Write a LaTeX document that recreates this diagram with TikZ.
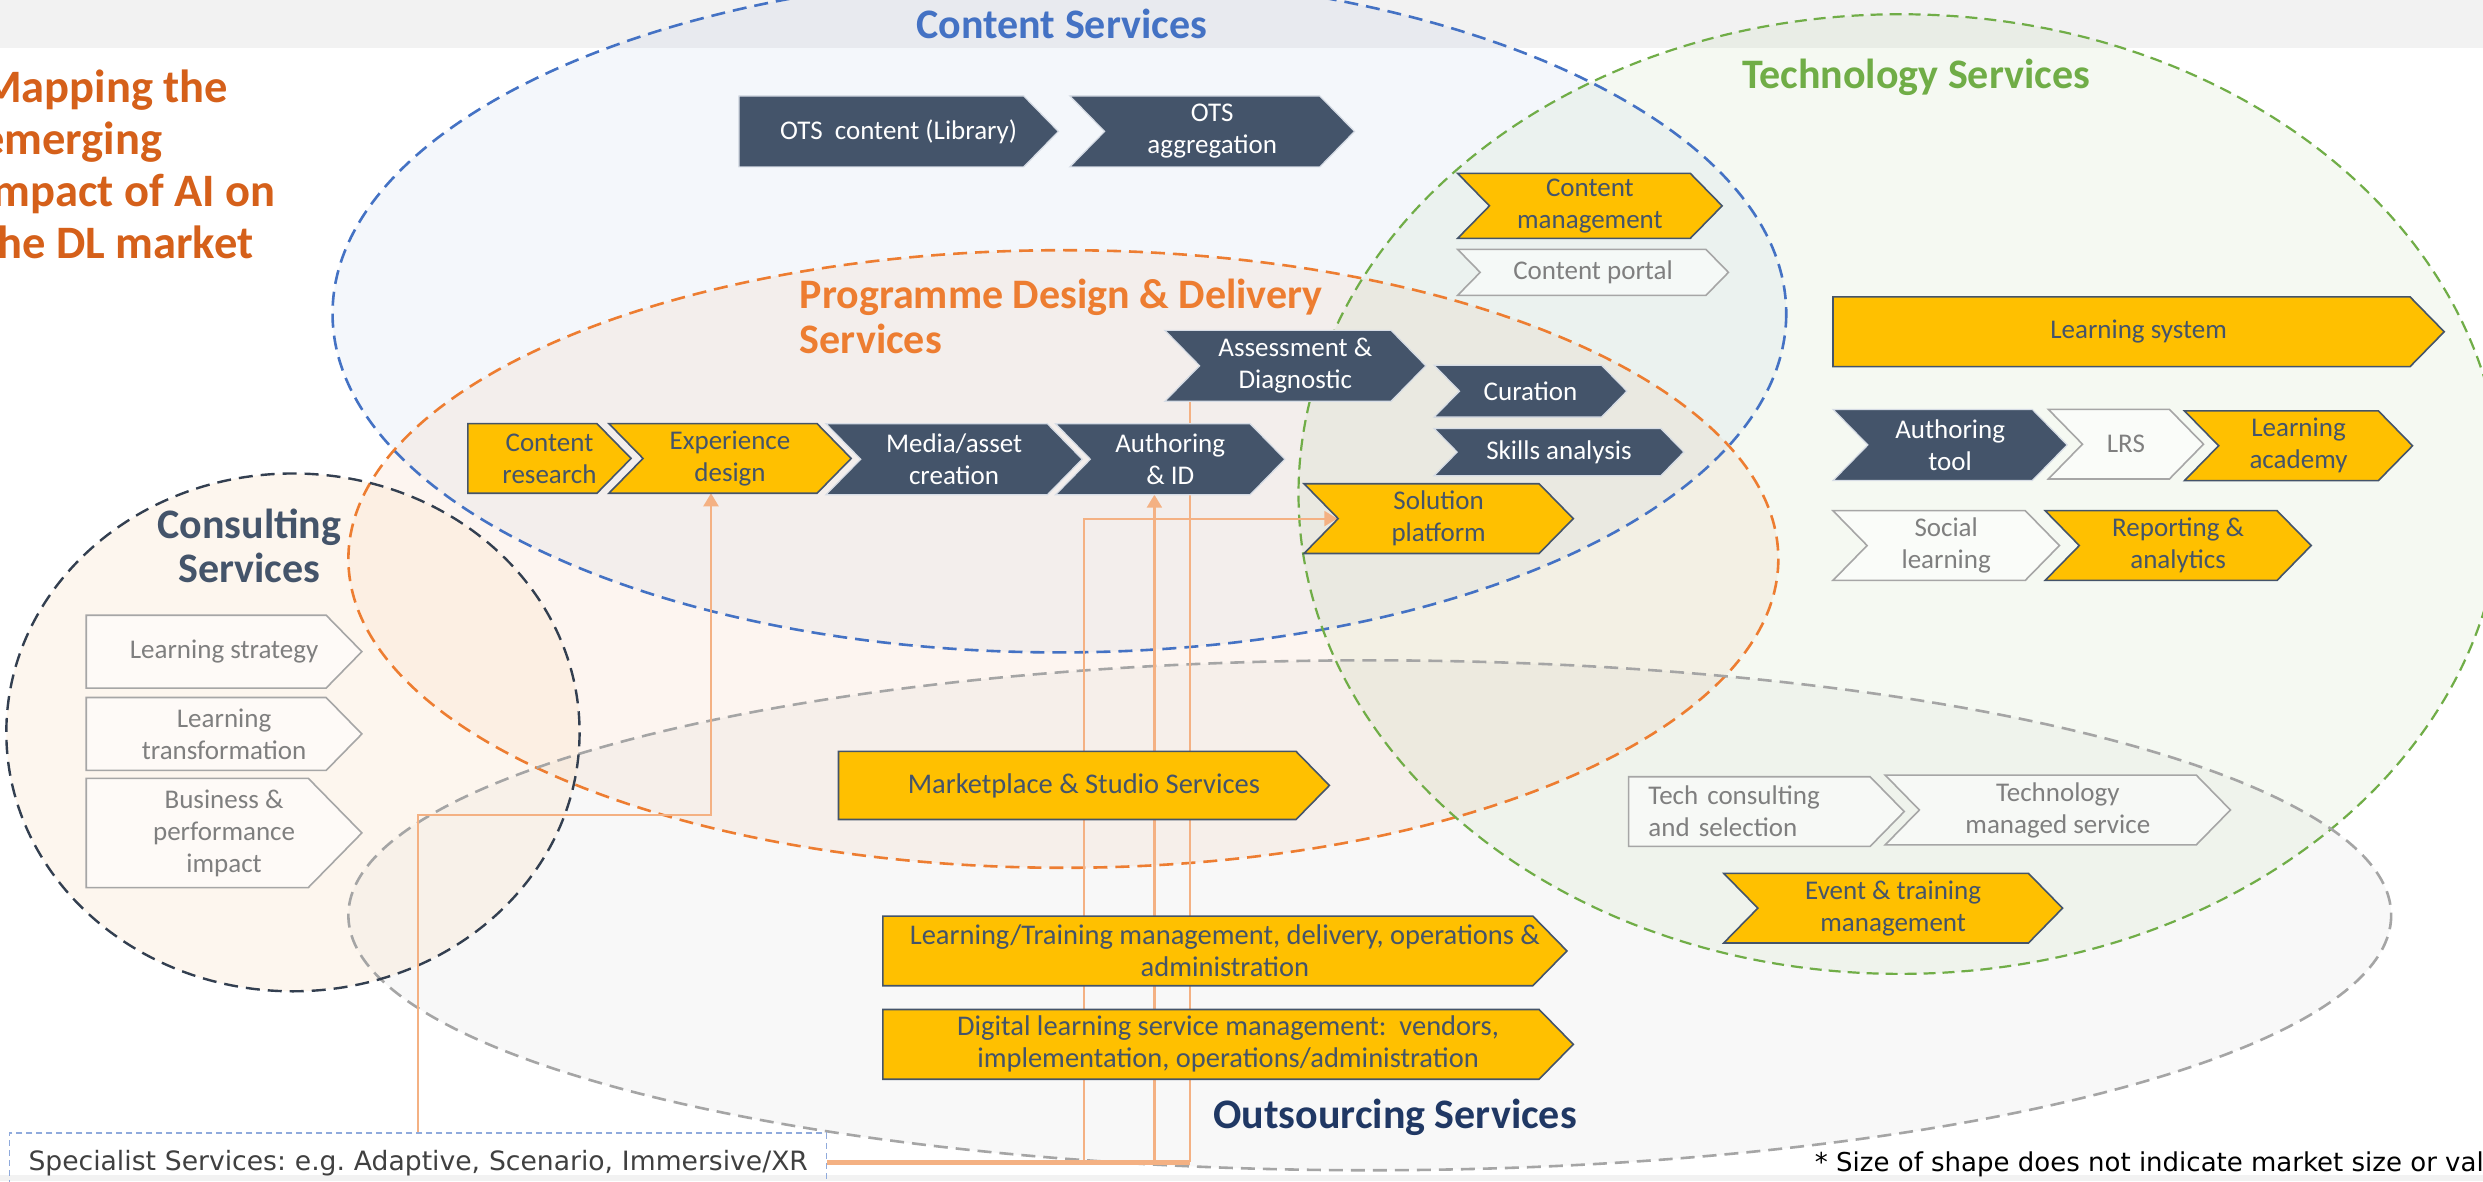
\documentclass[tikz,border=0pt]{standalone}
\usepackage{fontspec}
\setmainfont{Carlito}
\newfontfamily\verd{DejaVu Sans}
\usetikzlibrary{arrows.meta,calc}
\pgfdeclarelayer{back}
\pgfdeclarelayer{conns}
\pgfsetlayers{back,conns,main}

\definecolor{slate}{HTML}{44546A}
\definecolor{slateedge}{HTML}{D6DCE5}
\definecolor{gold}{HTML}{FFC000}
\definecolor{greyedge}{HTML}{A6A6A6}
\definecolor{greytext}{HTML}{7F7F7F}
\definecolor{blueC}{HTML}{4472C4}
\definecolor{orangeC}{HTML}{ED7D31}
\definecolor{greenC}{HTML}{70AD47}
\definecolor{greyC}{HTML}{A5A5A5}
\definecolor{navyC}{HTML}{333F50}
\definecolor{titleC}{HTML}{D5601A}
\definecolor{outC}{HTML}{203864}
\definecolor{connC}{HTML}{F4B183}
\definecolor{specC}{HTML}{8FAADC}
\definecolor{bandC}{HTML}{F2F2F2}
\definecolor{consC}{HTML}{FBE3C8}
\definecolor{textdark}{HTML}{404040}

\newcommand\bxfont{\fontsize{27}{32}\selectfont}
\newcommand\bigbxfont{\fontsize{28.5}{32}\selectfont}
\frenchspacing

\makeatletter
\pgfdeclareshape{arrbox}{%
  \inheritsavedanchors[from=rectangle]%
  \inheritanchorborder[from=rectangle]%
  \inheritanchor[from=rectangle]{center}%
  \inheritanchor[from=rectangle]{north}%
  \inheritanchor[from=rectangle]{south}%
  \inheritanchor[from=rectangle]{east}%
  \inheritanchor[from=rectangle]{west}%
  \inheritanchor[from=rectangle]{north east}%
  \inheritanchor[from=rectangle]{north west}%
  \inheritanchor[from=rectangle]{south east}%
  \inheritanchor[from=rectangle]{south west}%
  \inheritanchor[from=rectangle]{mid}%
  \inheritanchor[from=rectangle]{base}%
  \backgroundpath{%
    \southwest\edef\chXa{\the\pgf@x}\edef\chYa{\the\pgf@y}%
    \northeast\edef\chXb{\the\pgf@x}\edef\chYb{\the\pgf@y}%
    \pgfmathsetmacro\chD{0.49*(\chYb-\chYa)}%
    \pgfmathsetmacro\chYm{0.5*(\chYb+\chYa)}%
    \pgfpathmoveto{\pgfpoint{\chXa}{\chYa}}%
    \pgfpathlineto{\pgfpoint{\chXb-\chD pt}{\chYa}}%
    \pgfpathlineto{\pgfpoint{\chXb}{\chYm pt}}%
    \pgfpathlineto{\pgfpoint{\chXb-\chD pt}{\chYb}}%
    \pgfpathlineto{\pgfpoint{\chXa}{\chYb}}%
    \pgfpathclose
  }%
}
\pgfdeclareshape{chevshape}{%
  \inheritsavedanchors[from=rectangle]%
  \inheritanchorborder[from=rectangle]%
  \inheritanchor[from=rectangle]{center}%
  \inheritanchor[from=rectangle]{north}%
  \inheritanchor[from=rectangle]{south}%
  \inheritanchor[from=rectangle]{east}%
  \inheritanchor[from=rectangle]{west}%
  \inheritanchor[from=rectangle]{north east}%
  \inheritanchor[from=rectangle]{north west}%
  \inheritanchor[from=rectangle]{south east}%
  \inheritanchor[from=rectangle]{south west}%
  \inheritanchor[from=rectangle]{mid}%
  \inheritanchor[from=rectangle]{base}%
  \backgroundpath{%
    \southwest\edef\chXa{\the\pgf@x}\edef\chYa{\the\pgf@y}%
    \northeast\edef\chXb{\the\pgf@x}\edef\chYb{\the\pgf@y}%
    \pgfmathsetmacro\chD{0.49*(\chYb-\chYa)}%
    \pgfmathsetmacro\chYm{0.5*(\chYb+\chYa)}%
    \pgfpathmoveto{\pgfpoint{\chXa}{\chYa}}%
    \pgfpathlineto{\pgfpoint{\chXb-\chD pt}{\chYa}}%
    \pgfpathlineto{\pgfpoint{\chXb}{\chYm pt}}%
    \pgfpathlineto{\pgfpoint{\chXb-\chD pt}{\chYb}}%
    \pgfpathlineto{\pgfpoint{\chXa}{\chYb}}%
    \pgfpathlineto{\pgfpoint{\chXa+\chD pt}{\chYm pt}}%
    \pgfpathclose
  }%
}
\makeatother

\begin{document}
\begin{tikzpicture}[x=1.5835pt,y=-1.5835pt,
  bx/.style={inner sep=0pt, align=center, font=\bxfont, text opacity=1},
  bigbx/.style={font=\bigbxfont},
  flatbox/.style={shape=arrbox},
  chevbox/.style={shape=chevshape},
  dk/.style={fill=slate, draw=slateedge, line width=1.2pt, text=white},
  gd/.style={fill=gold, draw=slate, line width=1.6pt, text=slate},
  wt/.style={fill=white, fill opacity=0.55, draw=greyedge, line width=1.6pt, text=greytext},
  bb/.style n args={4}{minimum width={(#3-#1)*1.5835pt}, minimum height={(#4-#2)*1.5835pt}, at={({(#1+#3)/2},{(#2+#4)/2})}},
  sect/.style={font=\bfseries\fontsize{42}{45}\selectfont, inner sep=0pt},
  ell/.style={line width=2.6pt, dash pattern=on 14pt off 8pt},
  conn/.style={draw=connC, line width=2.2pt},
  connthick/.style={draw=connC, line width=4.5pt},
  arrowend/.style={-{Triangle[width=15pt,length=13pt]}},
]
\useasboundingbox (0,0) rectangle (1568,746);
\clip (0,0) rectangle (1568,746);

\begin{pgfonlayer}{back}
\clip (0,0) rectangle (1568,746);
\fill[white] (0,0) rectangle (1568,746);
\fill[bandC] (0,0) rectangle (1568,30.5);
\fill[bandC] (0,742) rectangle (1568,746);
% fills
\fill[blueC, fill opacity=0.055] (669,198) ellipse [x radius=459, y radius=214];
\fill[orangeC, fill opacity=0.07] (671.5,353) ellipse [x radius=451.5, y radius=195];
\fill[greenC, fill opacity=0.065] (1200,312) ellipse [x radius=380, y radius=303];
\fill[greyC, fill opacity=0.07] (865,578) ellipse [x radius=645, y radius=161];
\fill[consC, fill opacity=0.3] (185,462.5) ellipse [x radius=181, y radius=163.5];
% borders
\draw[blueC, ell] (669,198) ellipse [x radius=459, y radius=214];
\draw[orangeC, ell] (671.5,353) ellipse [x radius=451.5, y radius=195];
\draw[greenC, ell, line width=2.2pt, dash pattern=on 12pt off 7pt] (1200,312) ellipse [x radius=380, y radius=303];
\draw[greyC, ell] (865,578) ellipse [x radius=645, y radius=161];
\draw[navyC, ell, line width=2.4pt] (185,462.5) ellipse [x radius=181, y radius=163.5];
\end{pgfonlayer}

% Content services
\node[bx,flatbox,dk,bb={467}{61}{668}{105}] (otsc) {OTS~ content (Library)};
\node[bx,chevbox,dk,bb={676}{61}{855}{105}] (otsa) {OTS\\aggregation};
\node[bx,chevbox,gd,bb={921}{110}{1087}{150}] (cman) {Content\\management};
\node[bx,chevbox,wt,bb={921}{158}{1091}{186}] (cport) {Content portal};
% Programme design & delivery
\node[bx,chevbox,dk,bb={736}{209}{900}{253}] (ass) {Assessment \&\\Diagnostic};
\node[bx,chevbox,dk,bb={906}{231}{1027}{263}] (cur) {Curation};
\node[bx,chevbox,dk,bb={906}{271}{1063}{300}] (skl) {Skills analysis};
\node[bx,flatbox,gd,bb={296}{268}{398}{311}] (cres) {Content\\research};
\node[bx,chevbox,gd,bb={385}{268}{537}{311}] (exd) {Experience\\design};
\node[bx,chevbox,dk,bb={522}{268}{683}{312}] (med) {Media/asset\\creation};
\node[bx,chevbox,dk,bb={667}{268}{811}{312}] (auth) {Authoring\\\& ID};
\node[bx,chevbox,gd,bb={824}{306}{993}{349}] (sol) {Solution\\platform};
% Technology
\node[bx,flatbox,gd,bb={1158}{188}{1543}{231}] (lsys) {Learning system};
\node[bx,chevbox,dk,bb={1158}{259}{1305}{303}] (atool) {Authoring\\tool};
\node[bx,chevbox,wt,bb={1294}{259}{1391}{302}] (lrs) {LRS};
\node[bx,chevbox,gd,bb={1380}{260}{1523}{303}] (lacad) {Learning\\academy};
\node[bx,chevbox,wt,bb={1158}{323}{1300}{366}] (soc) {Social\\learning};
\node[bx,chevbox,gd,bb={1292}{323}{1459}{366}] (rep) {Reporting \&\\analytics};
% Consulting
\node[bx,flatbox,wt,bb={55}{389}{228}{434}] (lstr) {Learning strategy};
\node[bx,flatbox,wt,bb={55}{441}{228}{486}] (ltr) {Learning\\transformation};
\node[bx,flatbox,wt,bb={55}{492}{228}{560}] (bus) {Business \&\\performance\\impact};
% Outsourcing
\node[bx,bigbx,flatbox,gd,bb={530}{475}{839}{517}] (mkt) {Marketplace \& Studio Services};
\node[bx,bigbx,flatbox,gd,bb={558}{579}{989}{622}] (ltm) {Learning/Training management, delivery, operations \&\\administration};
\node[bx,bigbx,flatbox,gd,bb={558}{638}{993}{681}] (dlsm) {Digital learning service management:~ vendors,\\implementation, operations/administration};
\node[bx,flatbox,wt,bb={1029}{491}{1202}{534},align=left,text width={149*1.5835pt}] (tcons) {Tech consulting\\and selection};
\node[bx,chevbox,wt,bb={1191}{490}{1408}{533}] (tms) {Technology\\managed service};
\node[bx,chevbox,gd,bb={1089}{552}{1302}{595}] (evt) {Event \& training\\management};

% Specialist services box
\node[draw=specC, dash pattern=on 6pt off 4pt, line width=1.5pt, minimum width={516*1.5835pt}, minimum height={37*1.5835pt}, text width={492*1.5835pt}, align=left, inner sep=0pt, text height=20pt, text depth=3.4pt, font=\verd\fontsize{26.6}{30}\selectfont, text=textdark] (spec) at (264,734) {\mbox{Specialist Services: e.g. Adaptive, Scenario, Immersive/XR}};

% Connectors
\coordinate (xa) at ($(ass.south west)+(16,0)$);
\coordinate (xb) at ($(auth.south)+(-10,0)$);
\coordinate (xs) at ($(sol.west)+(21,0)$);
\coordinate (xe) at ($(exd.south)+(-12,0)$);
\begin{pgfonlayer}{conns}
\draw[conn] (spec.east -| xa) -- (xa);
\draw[conn, arrowend] (spec.east -| xb) -- (xb);
\draw[conn, arrowend] ($(spec.east)+(162,0)$) |- (xs);
\draw[conn, arrowend] ($(spec.north west)+(258.5,0)$) |- ($(xe)+(0,203)$) -- (xe);
\draw[connthick] (spec.east) -- (spec.east -| xa);
\end{pgfonlayer}

% Labels
\node[sect, text=blueC, anchor=base] (lcont) at (670.5,24) {Content Services};
\node[sect, text=greenC, anchor=base] (ltech) at (1210,56) {Technology Services};
\node[sect, text=orangeC, anchor=base west, align=left] (lprog) at (505,223.5) {Programme Design \& Delivery\\Services};
\node[sect, text=slate, anchor=base, align=center, font=\bfseries\fontsize{42}{44}\selectfont] (lcons) at (157.5,368) {Consulting\\Services};
\node[sect, text=outC, anchor=base] (lout) at (881,712.5) {Outsourcing Services};
\node[anchor=base west, align=left, inner sep=0pt, text=titleC, font=\bfseries\fontsize{46.5}{52}\selectfont] (ttl) at (-12,163) {Mapping the\\emerging\\impact of AI on\\the DL market};

% Footnote
\node[anchor=base west, inner sep=0pt, font=\verd\fontsize{26}{30}\selectfont, text=black] (note) at (1146,739.5) {* Size of shape does not indicate market size or val};
\end{tikzpicture}
\end{document}
